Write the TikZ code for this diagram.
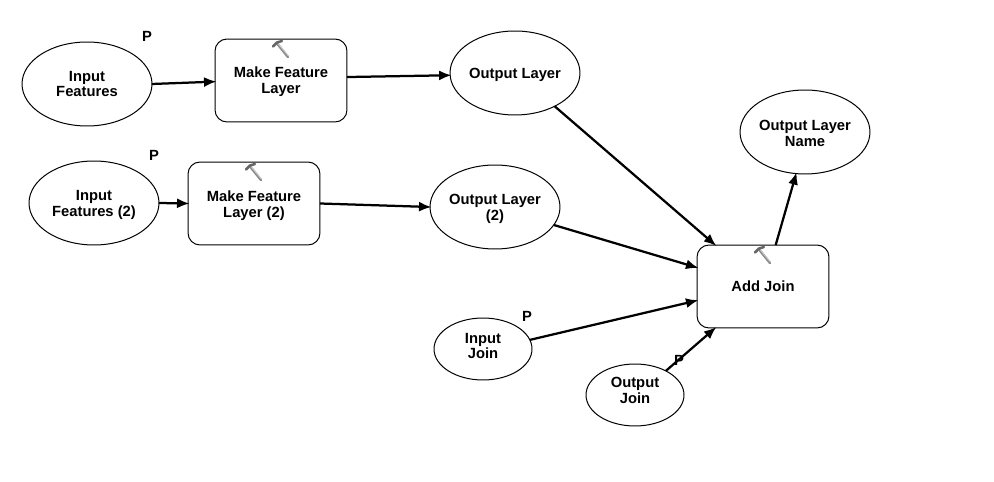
\documentclass[tikz,border=0pt]{standalone}
\usepackage{fontspec}
\setmainfont{Liberation Sans}
\usetikzlibrary{arrows.meta,shapes.geometric}
\def\hammer(#1,#2){\begin{scope}[shift={(#1,#2)}]
	\draw[line width=0.05cm, color=black!45, line cap=round] (-3.5, 5) -- (7, 18);
	\draw[line width=0.02cm, color=black!20, line cap=round] (-2.5, 5) -- (7.5, 17);
	\draw[line width=0.05cm, color=black!60, line cap=round] (-8, 7.5) -- (-4, 3.5) -- (1, 2);
\end{scope}}
\tikzset{
	bigdata/.style={draw, ellipse, line width=0.02cm, outer sep=0pt, minimum width=2.6cm, minimum height=1.68cm, inner sep=0pt, align=center, font=\fontsize{8.4}{9}\selectfont\bfseries},
	smalldata/.style={bigdata, minimum width=1.96cm, minimum height=1.24cm, text depth=3.4pt},
	toolbox/.style={draw, rectangle, rounded corners=0.24cm, line width=0.02cm, outer sep=0pt, minimum width=2.64cm, minimum height=1.66cm, inner sep=0pt, align=center, font=\fontsize{8.4}{9}\selectfont\bfseries},
	flow/.style={line width=0.045cm, shorten >=-0.03cm, -{Latex[length=0.25cm,width=0.2cm]}},
	param/.style={inner sep=0pt, font=\fontsize{8.4}{9}\selectfont\bfseries}
}

\begin{document}
\begin{tikzpicture}[x=0.02cm, y=-0.02cm]
	%%%%% START %%%%%
	\useasboundingbox (0, 0) rectangle (994, 482);

	% top row
	\node[bigdata] (infeat) at (87, 84) {Input\\Features};
	\node[toolbox, text height=16.2pt] (makelayer) at (281, 80.5) {Make Feature\\Layer};
	\node[bigdata, text height=8.3pt] (outlayer) at (515, 73) {Output Layer};

	% second row
	\node[bigdata, text height=17.3pt] (infeattwo) at (94, 203) {Input\\Features (2)};
	\node[toolbox, text height=17.3pt] (makelayertwo) at (254, 203.5) {Make Feature\\Layer (2)};
	\node[bigdata, text height=17.3pt] (outlayertwo) at (495, 207) {Output Layer\\(2)};

	% join
	\node[toolbox] (addjoin) at (763, 286.5) {Add Join};
	\node[bigdata, text height=16.8pt] (outname) at (805, 132) {Output Layer\\Name};
	\node[smalldata] (injoin) at (483, 349) {Input\\Join};
	\node[smalldata, text depth=5.6pt] (outjoin) at (635, 395) {Output\\Join};

	\hammer(281, 39)
	\hammer(254, 162)
	\hammer(763, 245)

	\draw[flow] (infeat.east) -- (makelayer.181);
	\draw[flow] (makelayer.3) -- (outlayer.182);
	\draw[flow] (infeattwo.east) -- (makelayertwo.west);
	\draw[flow] (makelayertwo.east) -- (outlayertwo.west);
	\draw[flow] (outlayer.-40) -- (addjoin.139);
	\draw[flow] (outlayertwo.-17) -- (addjoin.164);
	\draw[flow] (injoin.11) -- (addjoin.192);
	\draw[flow] (outjoin.38) -- (addjoin.221);
	\draw[flow] (addjoin.73) -- (outname.258);

	\node[param] (pone) at (147, 36) {P};
	\node[param] (ptwo) at (154, 155) {P};
	\node[param] (pthree) at (527, 316) {P};
	\node[param] (pfour) at (679, 360) {P};
	%%%%% END %%%%%
\end{tikzpicture}
\end{document}
